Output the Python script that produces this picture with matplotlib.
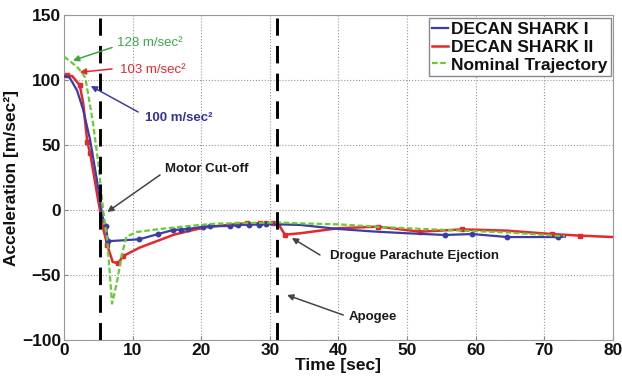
import matplotlib
matplotlib.use('Agg')
import matplotlib.pyplot as plt
from matplotlib.lines import Line2D

plt.rcParams['font.family'] = ['Liberation Sans', 'DejaVu Sans']

# 数据
blue_t = [0, 0.8, 1.9, 2.8, 3.8, 4.8, 5.6, 6.1, 6.4, 8, 11, 13.7, 15.9, 17, 18.1, 20.3, 21.3,
          24.2, 25.4, 27, 28.4, 29.4, 31, 34.4, 40, 45, 50, 55.5, 59.5, 64.6, 68, 72, 73]
blue_v = [103, 102, 92, 77, 54, 23, -5, -12, -24, -23.5, -22.5, -18.5, -15.4, -15, -14.6, -12.8, -12.5,
          -12.3, -11.5, -11.3, -11.2, -10.8, -11, -11.5, -14.6, -16.5, -17.9, -19.2, -18.5, -20.8, -20.8, -20.8, -20.5]
blue_marks = [7, 8, 10, 11, 12, 13, 14, 15, 16, 17, 18, 19, 20, 21, 27, 28, 29, 31]

red_t = [0, 0.5, 1.2, 2.3, 2.8, 3.4, 3.8, 4.8, 5.7, 6.3, 7.1, 7.9, 8.6, 11, 14, 16, 18.8, 21,
         25.2, 26.6, 28.5, 29.5, 30.5, 31.2, 32.2, 34.4, 40, 45.8, 51.9, 58, 64.6, 71.1, 75.2, 80]
red_v = [103, 103.5, 103, 96, 82, 52, 44, 13, -14, -27, -40, -41, -35.5, -29, -23, -19, -15.4, -13,
         -10.8, -10.2, -10.3, -10.3, -10.3, -10.5, -19, -17.9, -14, -12.8, -16.7, -14.9, -15.9, -18.5, -19.7, -20.8]
red_marks = [1, 3, 5, 6, 9, 11, 12, 18, 19, 20, 21, 22, 23, 24, 27, 28, 29, 31, 32]

green_t = [0, 1, 2.1, 3.1, 4.2, 5.0, 5.7, 6.3, 7.0, 7.7, 8.4, 9.1, 10.6, 14, 18.8, 22, 26,
           31.9, 34.4, 40, 45.8, 52, 58, 64.6, 72.3, 73]
green_v = [118, 114, 109, 102, 68, 36, 0, -23, -72, -56, -35, -20.5, -16.9, -14.6, -12, -10.5, -10,
           -9.7, -10.3, -11, -13, -14.5, -15.9, -17.2, -20, -20]

events_t = [5.2, 31.0]

C_BLUE = '#3c3ca8'
C_RED = '#e8262b'
C_GREEN = '#66cc33'

fig = plt.figure(figsize=(6.22, 3.79), dpi=100)
ax = fig.add_axes([0.1029, 0.1029, 0.8826, 0.8575])

ax.plot(blue_t, blue_v, color=C_BLUE, lw=1.6, marker='o', ms=3.2, markevery=blue_marks, zorder=4)
ax.plot(red_t, red_v, color=C_RED, lw=1.8, marker='s', ms=3.2, markevery=red_marks, zorder=3)
ax.plot(green_t, green_v, color=C_GREEN, lw=1.6, ls='--', dashes=(2.5, 1.2), zorder=5)

for t in events_t:
    ax.plot([t, t], [-100, 148], color='black', lw=2.1, dashes=(6, 3.5), zorder=6)

# 注释
def note(txt, pos, tail, head, color, acolor, bold=True, size=9.5):
    ax.text(pos[0], pos[1], txt, color=color, fontsize=size,
            fontweight='bold' if bold else 'normal', ha='left', va='center', zorder=8)
    ax.annotate('', xy=head, xytext=tail,
                arrowprops=dict(arrowstyle='-|>', color=acolor, lw=1.1,
                                mutation_scale=9, shrinkA=0, shrinkB=0), zorder=8)

note('128 m/sec²', (7.7, 128.5), (7.0, 125), (1.3, 115), '#3aaa4a', '#3aaa3a', bold=False)
note('103 m/sec²', (8.2, 107.7), (7.0, 108.5), (2.3, 106), C_RED, C_RED, bold=False)
note('100 m/sec²', (11.8, 70.8), (10.8, 75.4), (3.9, 95.4), '#33339a', '#3c3ca8')
note('Motor Cut-off', (14.7, 31.5), (14.0, 27), (6.3, -1.5), '#1a1a1a', '#444444')
note('Drogue Parachute Ejection', (38.8, -35.4), (37.3, -34.6), (33.2, -21.5), '#1a1a1a', '#444444')
note('Apogee', (41.5, -82.3), (40.7, -80.8), (32.5, -65.4), '#1a1a1a', '#444444')

ax.set_xlim(0, 80)
ax.set_ylim(-100, 150)
ax.set_xticks(range(0, 81, 10))
ax.set_yticks(range(-100, 151, 50))
ax.grid(True, ls=':', color='#999999', lw=0.8)
ax.tick_params(direction='in', length=3, color='#888888', pad=2, labelsize=12.5, labelcolor='#111111')
for lab in ax.get_xticklabels() + ax.get_yticklabels():
    lab.set_fontweight('bold')
for sp in ax.spines.values():
    sp.set_color('#999999')

ax.set_xlabel('Time [sec]', fontsize=12.5, fontweight='bold', labelpad=0, color='#111111')
ax.set_ylabel('Acceleration [m/sec²]', fontsize=12.5, fontweight='bold', labelpad=2, color='#111111')

# 图例只显示线段
handles = [Line2D([], [], color=C_BLUE, lw=1.6),
           Line2D([], [], color=C_RED, lw=1.8),
           Line2D([], [], color=C_GREEN, lw=1.6, ls='--', dashes=(2.5, 1.2))]
labels = ['DECAN SHARK I', 'DECAN SHARK II', 'Nominal Trajectory']
leg = ax.legend(handles, labels, loc='upper right', bbox_to_anchor=(1.0, 0.995), fontsize=12.5,
                handlelength=0.9, handletextpad=0.2, borderpad=0.2, labelspacing=0.15,
                fancybox=False, framealpha=1, edgecolor='#888888', borderaxespad=0.1)
for t in leg.get_texts():
    t.set_fontweight('bold')
    t.set_color('#111111')

fig.savefig('out.png', dpi=100)
